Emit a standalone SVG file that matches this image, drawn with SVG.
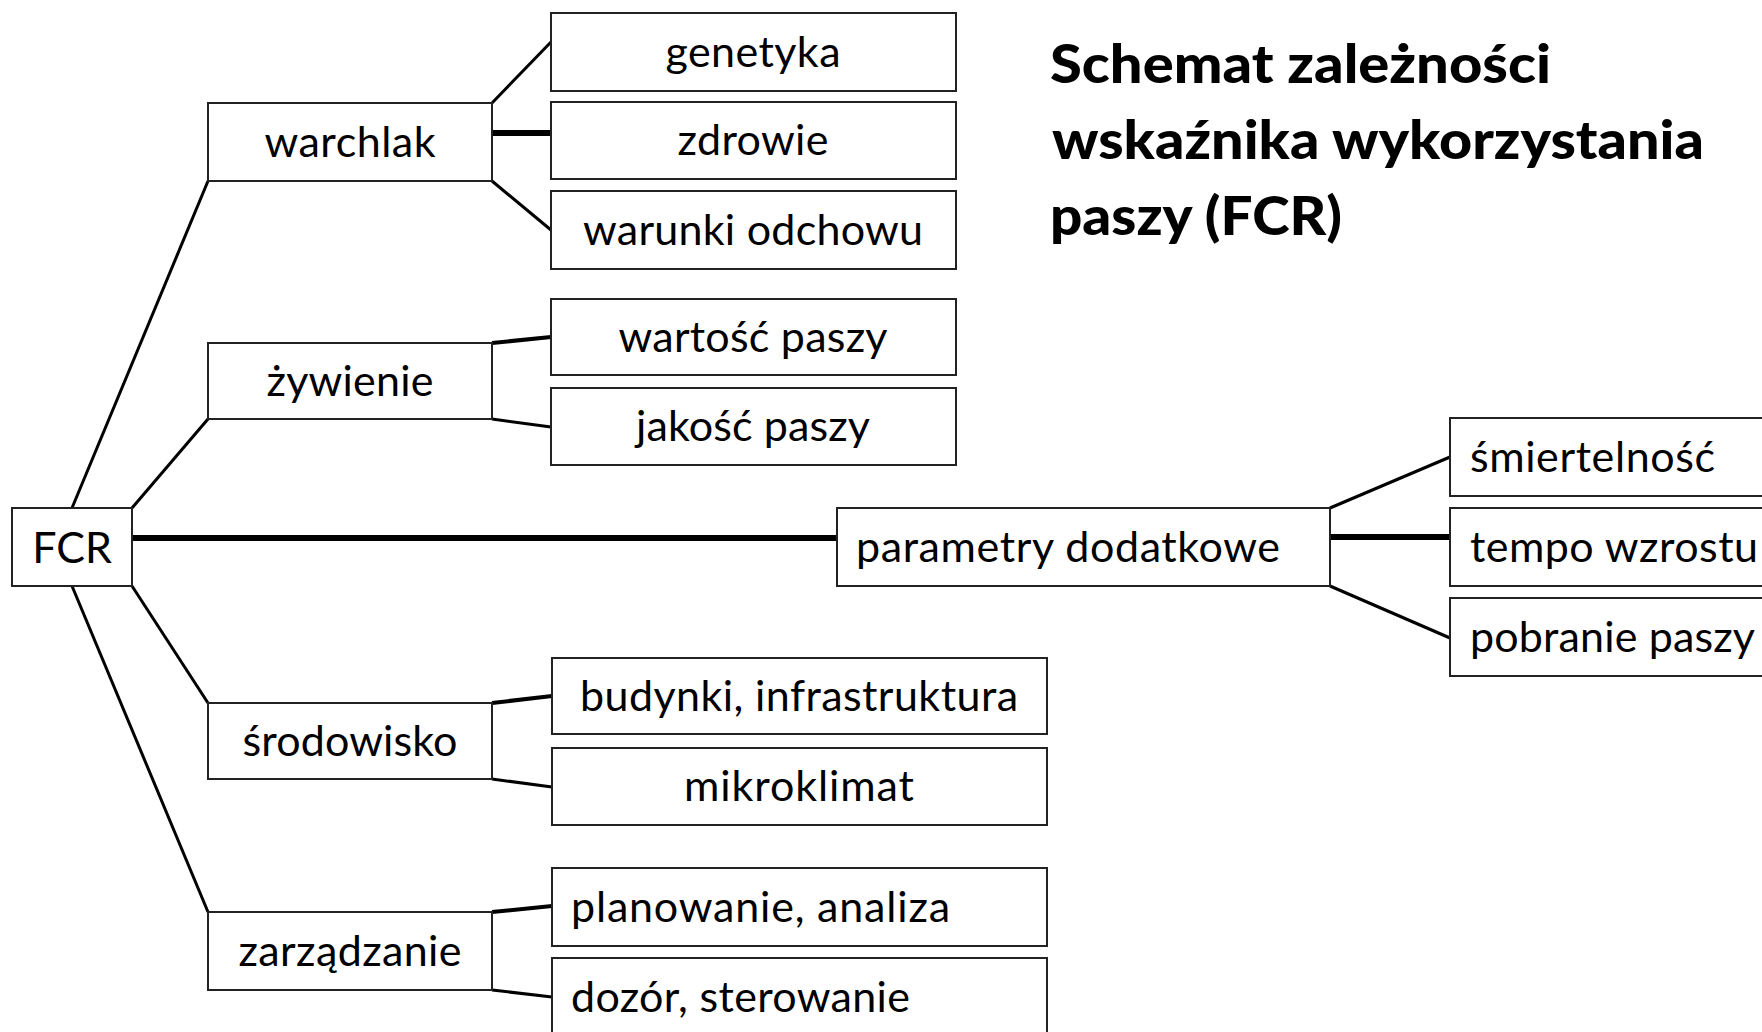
<svg xmlns="http://www.w3.org/2000/svg" width="1762" height="1032" viewBox="0 0 1762 1032">
<style>
.box{fill:#fff;stroke:#222;stroke-width:2}
.t{font-family:Lato,"Open Sans","Liberation Sans",sans-serif;font-size:43px;fill:#000}
.c{text-anchor:middle}
.title{font-family:Lato,"Open Sans","Liberation Sans",sans-serif;font-size:54px;font-weight:900;fill:#000}
.ln{stroke:#000;stroke-width:3;fill:none}
.thick{stroke:#000;stroke-width:6;fill:none}
</style>
<rect width="1762" height="1032" fill="#fff"/>
<g id="connectors">
<line class="ln" x1="72" y1="508" x2="208" y2="181"/>
<line class="ln" x1="132" y1="508" x2="208" y2="419"/>
<line class="ln" x1="132" y1="586" x2="208" y2="703"/>
<line class="ln" x1="72" y1="586" x2="208" y2="912"/>
<line class="thick" x1="132" y1="538" x2="837" y2="538"/>
<line class="ln" x1="492" y1="103" x2="551" y2="42"/>
<line class="thick" x1="492" y1="133" x2="551" y2="133"/>
<line class="ln" x1="492" y1="181" x2="551" y2="230"/>
<line class="ln" x1="492" y1="343" x2="551" y2="337" style="stroke-width:4"/>
<line class="ln" x1="492" y1="419" x2="551" y2="427"/>
<line class="ln" x1="492" y1="703" x2="552" y2="696" style="stroke-width:4"/>
<line class="ln" x1="492" y1="779" x2="552" y2="787"/>
<line class="ln" x1="492" y1="912" x2="552" y2="906" style="stroke-width:4"/>
<line class="ln" x1="492" y1="990" x2="552" y2="997"/>
<line class="ln" x1="1330" y1="508" x2="1450" y2="457"/>
<line class="thick" x1="1330" y1="537" x2="1450" y2="537"/>
<line class="ln" x1="1330" y1="586" x2="1450" y2="638"/>
</g>
<g id="fcr"><rect class="box" x="12" y="508" width="120" height="78"/><text class="t c" x="72" y="563">FCR</text></g>
<g id="warchlak"><rect class="box" x="208" y="103" width="284" height="78"/><text class="t c" x="350" y="157" textLength="171">warchlak</text></g>
<g id="zywienie"><rect class="box" x="208" y="343" width="284" height="76"/><text class="t c" x="350" y="396" textLength="167">żywienie</text></g>
<g id="srodowisko"><rect class="box" x="208" y="703" width="284" height="76"/><text class="t c" x="350" y="756" textLength="215">środowisko</text></g>
<g id="zarzadzanie"><rect class="box" x="208" y="912" width="284" height="78"/><text class="t c" x="350" y="966" textLength="223">zarządzanie</text></g>
<g id="genetyka"><rect class="box" x="551" y="13" width="405" height="78"/><text class="t c" x="753" y="67" textLength="175">genetyka</text></g>
<g id="zdrowie"><rect class="box" x="551" y="102" width="405" height="77"/><text class="t c" x="753" y="155" textLength="151">zdrowie</text></g>
<g id="warunki"><rect class="box" x="551" y="191" width="405" height="78"/><text class="t c" x="753" y="245" textLength="340">warunki odchowu</text></g>
<g id="wartosc"><rect class="box" x="551" y="299" width="405" height="76"/><text class="t c" x="753" y="352" textLength="269">wartość paszy</text></g>
<g id="jakosc"><rect class="box" x="551" y="388" width="405" height="77"/><text class="t c" x="753" y="441" textLength="234">jakość paszy</text></g>
<g id="budynki"><rect class="box" x="552" y="658" width="495" height="76"/><text class="t c" x="799" y="711" textLength="438">budynki, infrastruktura</text></g>
<g id="mikroklimat"><rect class="box" x="552" y="748" width="495" height="77"/><text class="t c" x="799" y="801" textLength="230">mikroklimat</text></g>
<g id="planowanie"><rect class="box" x="552" y="868" width="495" height="78"/><text class="t" x="571" y="922" textLength="379">planowanie, analiza</text></g>
<g id="dozor"><rect class="box" x="552" y="958" width="495" height="110"/><text class="t" x="571" y="1012" textLength="339">dozór, sterowanie</text></g>
<g id="parametry"><rect class="box" x="837" y="508" width="493" height="78"/><text class="t" x="856" y="562" textLength="424">parametry dodatkowe</text></g>
<g id="smiertelnosc"><rect class="box" x="1450" y="418" width="340" height="78"/><text class="t" x="1470" y="472" textLength="245">śmiertelność</text></g>
<g id="tempo"><rect class="box" x="1450" y="508" width="340" height="78"/><text class="t" x="1470" y="562" textLength="288">tempo wzrostu</text></g>
<g id="pobranie"><rect class="box" x="1450" y="598" width="340" height="78"/><text class="t" x="1470" y="652" textLength="285">pobranie paszy</text></g>
<g id="title">
<text class="title" x="1050" y="83" textLength="501" lengthAdjust="spacingAndGlyphs">Schemat zależności</text>
<text class="title" x="1052" y="159" textLength="652" lengthAdjust="spacingAndGlyphs">wskaźnika wykorzystania</text>
<text class="title" x="1050" y="235" textLength="292" lengthAdjust="spacingAndGlyphs">paszy (FCR)</text>
</g>
</svg>
